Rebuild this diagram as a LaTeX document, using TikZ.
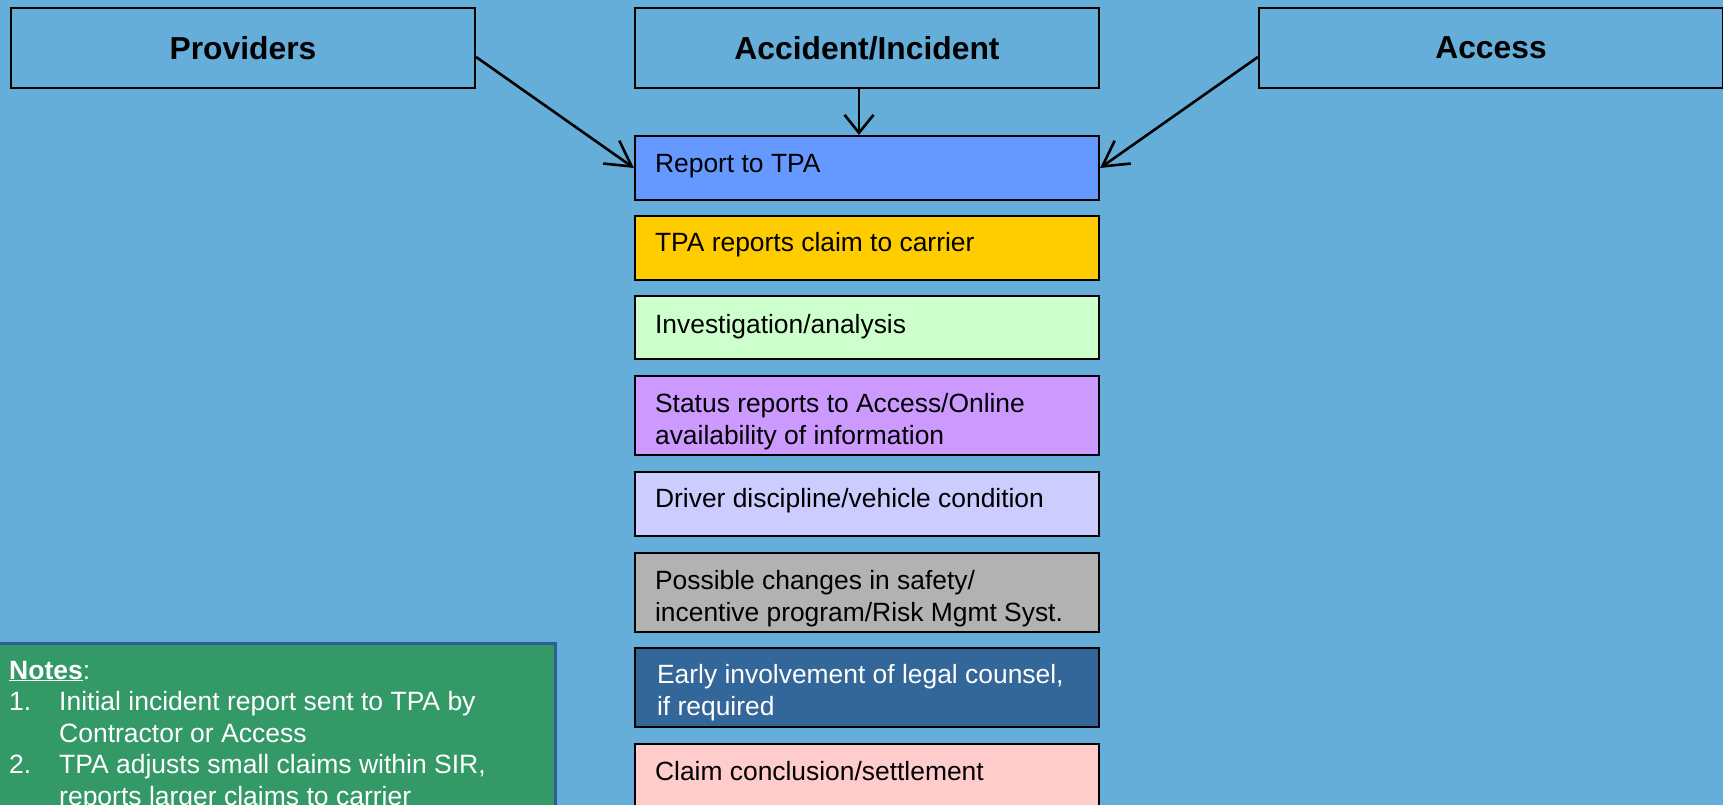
\documentclass[tikz,border=0pt]{standalone}
\usepackage{fontspec}
\setmainfont{Liberation Sans}
\usetikzlibrary{arrows.meta,calc}
\definecolor{bg}{RGB}{100,174,217}
\definecolor{cReport}{RGB}{102,153,255}
\definecolor{cTPA}{RGB}{255,204,0}
\definecolor{cInv}{RGB}{204,255,204}
\definecolor{cStatus}{RGB}{204,153,255}
\definecolor{cDriver}{RGB}{204,204,255}
\definecolor{cPoss}{RGB}{178,178,178}
\definecolor{cEarly}{RGB}{51,102,153}
\definecolor{cClaim}{RGB}{255,204,204}
\definecolor{cNotes}{RGB}{51,153,102}
\definecolor{cNotesBorder}{RGB}{47,92,145}
\newcommand{\mlines}[1]{\begin{tabular}[t]{@{}l@{}}#1\end{tabular}}
\begin{document}
\begin{tikzpicture}[x=1pt,y=-1pt,
  head/.style={draw=black, line width=2.2pt, minimum width=464pt, minimum height=80pt,
    inner sep=0pt, font=\fontsize{31.8}{38}\selectfont\bfseries},
  stepbox/.style={draw=black, line width=2.2pt, minimum width=464pt, inner sep=0pt},
  txt/.style={anchor=base west, inner sep=0pt, font=\fontsize{26.4}{31.6}\selectfont},
  arr/.style={line width=2.6pt, -{Straight Barb[length=25pt,width=28pt,line width=2.6pt]}},
  arrdown/.style={line width=2.6pt, -{Straight Barb[length=18pt,width=29pt,line width=2.6pt]}}]
\useasboundingbox (0,0) rectangle (1723,805);
\clip (0,0) rectangle (1723,805);
\fill[bg] (0,0) rectangle (1723,805);

% heading boxes
\node[head] (prov) at (243,48) {Providers};
\node[head] (acc) at (867,48) {Accident/Incident};
\node[head] (access) at (1491,48) {Access};

% step boxes
\node[stepbox, fill=cReport, minimum height=64pt] (rep) at (867,168) {};
\node[stepbox, fill=cTPA, minimum height=64pt] (tpa) at (867,248) {};
\node[stepbox, fill=cInv, minimum height=63pt] (inv) at (867,327.5) {};
\node[stepbox, fill=cStatus, minimum height=79pt] (stat) at (867,415.5) {};
\node[stepbox, fill=cDriver, minimum height=64pt] (drv) at (867,504) {};
\node[stepbox, fill=cPoss, minimum height=79pt] (poss) at (867,592.5) {};
\node[stepbox, fill=cEarly, minimum height=79pt] (early) at (867,687.5) {};
\node[stepbox, fill=cClaim, minimum height=86pt] (claim) at (867,787) {};

% step texts
\node[txt] (trep) at ($(rep.north west)+(21,38)$) {Report to TPA};
\node[txt] (ttpa) at ($(tpa.north west)+(21,37)$) {TPA reports claim to carrier};
\node[txt] (tinv) at ($(inv.north west)+(21,39)$) {Investigation/analysis};
\node[txt] (tstat) at ($(stat.north west)+(21,37.5)$) {\mlines{Status reports to Access/Online\\availability of information}};
\node[txt] (tdrv) at ($(drv.north west)+(21,36.5)$) {Driver discipline/vehicle condition};
\node[txt] (tposs) at ($(poss.north west)+(21,37.5)$) {\mlines{Possible changes in safety/\\incentive program/Risk Mgmt Syst.}};
\node[txt, text=white] (tearly) at ($(early.north west)+(23,37)$) {\mlines{Early involvement of legal counsel,\\if required}};
\node[txt] (tclaim) at ($(claim.north west)+(21,38)$) {Claim conclusion/settlement};

% connectors
\draw[arr] ([yshift=-9pt]prov.east) -- (rep.west);
\draw[arrdown] ([xshift=-8pt]acc.south) -- ([xshift=-8pt]rep.north);
\draw[arr] ([yshift=-9pt]access.west) -- (rep.east);

% notes
\node[draw=cNotesBorder, line width=3pt, fill=cNotes, minimum width=560pt, minimum height=190pt, inner sep=0pt] (notes) at (275,738) {};
\node[anchor=base west, inner sep=0pt, text=white, font=\fontsize{26.5}{31.6}\selectfont] (tnotes) at (9,679)
 {\begin{tabular}[t]{@{}p{50pt}@{}l@{}}
  \multicolumn{2}{@{}l@{}}{\underline{\textbf{Notes}}:}\\
  1. & Initial incident report sent to TPA by\\
     & Contractor or Access\\
  2. & TPA adjusts small claims within SIR,\\
     & reports larger claims to carrier
  \end{tabular}};
\end{tikzpicture}
\end{document}
